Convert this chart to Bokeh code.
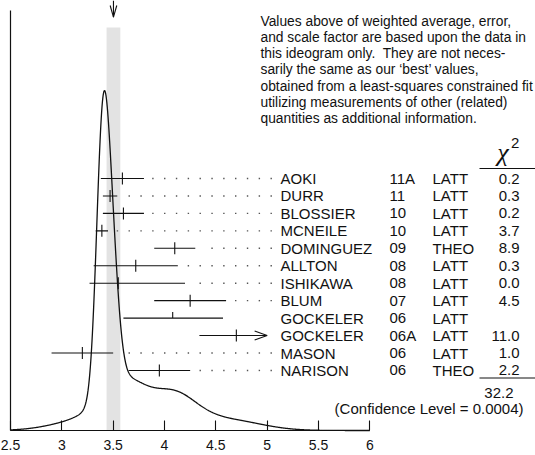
import numpy as np
from bokeh.plotting import figure
from bokeh.models import Range1d, FixedTicker
from bokeh.core.properties import value
from bokeh.embed import file_html
from bokeh.resources import INLINE

# ---------------- data ----------------
authors = ["AOKI", "DURR", "BLOSSIER", "MCNEILE", "DOMINGUEZ", "ALLTON",
           "ISHIKAWA", "BLUM", "GOCKELER", "GOCKELER", "MASON", "NARISON"]
years = ["11A", "11", "10", "10", "09", "08", "08", "07", "06", "06A", "06", "06"]
methods = ["LATT", "LATT", "LATT", "LATT", "THEO", "LATT", "LATT", "LATT",
           "LATT", "LATT", "LATT", "THEO"]
values = [3.59, 3.47, 3.60, 3.39, 4.10, 3.72, 3.55, 4.25, 4.08, 4.70, 3.20, 3.95]
err_lo = [0.21, 0.07, 0.20, 0.06, 0.20, 0.41, 0.28, 0.35, 0.48, 0.36, 0.30, 0.30]
err_hi = [0.21, 0.07, 0.20, 0.06, 0.20, 0.41, 0.65, 0.35, 0.49, 0.30, 0.30, 0.30]
chi2 = ["0.2", "0.3", "0.2", "3.7", "8.9", "0.3", "0.0", "4.5", "", "11.0", "1.0", "2.2"]
used_in_fit = [True, True, True, True, True, True, True, True, False, True, True, True]
arrow_right = [False, False, False, False, False, False, False, False, False, True, False, False]

avg = 3.503
avg_err = 0.067
chi2_total = "32.2"
confidence = "(Confidence Level = 0.0004)"
ticks = [2.5, 3, 3.5, 4, 4.5, 5, 5.5, 6]
tick_labels = ["2.5", "3", "3.5", "4", "4.5", "5", "5.5", "6"]
note_lines = [
    "Values above of weighted average, error,",
    "and scale factor are based upon the data in",
    "this ideogram only.\u00a0 They are not neces-",
    "sarily the same as our \u2018best\u2019 values,",
    "obtained from a least-squares constrained fit",
    "utilizing measurements of other (related)",
    "quantities as additional information.",
]

# ---------------- layout (page pixel coordinates) ----------------
W, H = 535, 455
X0_PX, X1_PX = 10.0, 369.3          # where ticks[0] and ticks[-1] land
SCALE = (X1_PX - X0_PX) / (ticks[-1] - ticks[0])


def xd(px):
    return ticks[0] + (px - X0_PX) / SCALE


BASE = 430.0      # axis baseline (page y)
PEAK = 90.0       # ideogram peak (page y)
ROW0, DROW = 178.0, 17.45
FONT = value("Liberation Sans")
FS = "15px"
FS_NOTE = "13.8px"
INK = "#111111"

p = figure(width=W, height=H, output_backend="svg", toolbar_location=None,
           x_range=Range1d(xd(0), xd(W)), y_range=Range1d(H, 0),
           y_axis_location=None, min_border=0)
p.outline_line_color = None
p.xgrid.visible = False
p.ygrid.visible = False
p.background_fill_color = "white"
p.border_fill_color = "white"

ax = p.xaxis[0]
ax.fixed_location = BASE
ax.ticker = FixedTicker(ticks=ticks)
ax.major_label_overrides = {float(t): s for t, s in zip(ticks, tick_labels)}
ax.bounds = (ticks[0], ticks[-1])
ax.major_tick_in = 10
ax.major_tick_out = 0
ax.minor_tick_in = 0
ax.minor_tick_out = 0
ax.minor_tick_line_color = None
ax.axis_line_color = INK
ax.axis_line_width = 1.2
ax.major_tick_line_color = INK
ax.major_tick_line_width = 1.1
ax.major_label_standoff = 9
ax.major_label_text_font = "Liberation Sans"
ax.major_label_text_font_size = "14px"
ax.major_label_text_color = INK

# weighted average band
p.quad(left=[avg - avg_err], right=[avg + avg_err], top=[27], bottom=[BASE],
       fill_color="#e3e3e3", line_color=None)

# left frame line
p.segment(x0=[ticks[0]], x1=[ticks[0]], y0=[10], y1=[BASE], line_color=INK, line_width=1.2)

# ideogram curve: each used measurement is a Gaussian of area ~ 1/sigma
xs = np.linspace(ticks[0], ticks[-1], 900)
f = np.zeros_like(xs)
for v, lo, hi, u in zip(values, err_lo, err_hi, used_in_fit):
    if not u:
        continue
    s = np.where(xs < v, lo, hi)
    sm = 0.5 * (lo + hi)
    f += (1.0 / sm ** 2) * np.exp(-0.5 * ((xs - v) / s) ** 2)
ycurve = BASE - (BASE - PEAK) * f / f.max()
p.line(xs, ycurve, line_color=INK, line_width=1.3)

# top arrow marking the average
hx = 3.3 / SCALE
p.segment(x0=[avg], x1=[avg], y0=[0], y1=[16.7], line_color=INK, line_width=1.1)
p.segment(x0=[avg - hx, avg + hx], x1=[avg, avg], y0=[5, 5], y1=[16.7, 16.7],
          line_color=INK, line_width=1.1)

# measurements
n = len(values)
rows = [ROW0 + i * DROW for i in range(n)]
lefts = [v - l for v, l in zip(values, err_lo)]
rights = [v + h for v, h in zip(values, err_hi)]
p.segment(x0=lefts, x1=rights, y0=rows, y1=rows, line_color=INK, line_width=1.1)
tick_bottom = [r + (6 if u else 0) for r, u in zip(rows, used_in_fit)]
p.segment(x0=values, x1=values, y0=[r - 6 for r in rows], y1=tick_bottom,
          line_color=INK, line_width=1.1)

# arrow heads
ah_len = 12.5 / SCALE
for i in range(n):
    if arrow_right[i]:
        tip = rights[i]
        p.segment(x0=[tip - ah_len, tip - ah_len], x1=[tip, tip],
                  y0=[rows[i] - 4.5, rows[i] + 4.5], y1=[rows[i], rows[i]],
                  line_color=INK, line_width=1.1)

# dotted leaders
DOT_REF = xd(270.7)
DOT_STEP = 11.83 / SCALE
grid = [DOT_REF - k * DOT_STEP for k in range(0, 14)]
dx, dy = [], []
for i in range(n):
    if not used_in_fit[i] or arrow_right[i]:
        continue
    for g in grid:
        if g > rights[i] + 6.0 / SCALE:
            dx.append(g)
            dy.append(rows[i])
p.scatter(dx, dy, marker="square", size=1.4, fill_color="#555555", line_color=None)

# table text (vertically centred on each row line)
for xpx, col, align in ((280, authors, "left"), (389, years, "left"),
                        (432, methods, "left"), (519, chi2, "right")):
    p.text(x=[xd(xpx)] * n, y=rows, text=col, text_font=FONT,
           text_font_size=FS, text_baseline="middle", text_align=align,
           text_color=INK)

# chi2 header
p.text(x=[xd(502.5)], y=[152], text=["\u03c7"], text_font=value("Liberation Serif"),
       text_font_style="italic", text_font_size="26px",
       text_baseline="middle", text_align="center", text_color=INK)
p.text(x=[xd(510.5)], y=[142.5], text=["2"], text_font=FONT, text_font_size=FS,
       text_baseline="middle", text_align="left", text_color=INK)
p.segment(x0=[xd(479), xd(479)], x1=[xd(540), xd(540)], y0=[168, 377.5], y1=[168, 377.5],
          line_color=INK, line_width=1.0)
p.text(x=[xd(513)], y=[392], text=[chi2_total], text_font=FONT, text_font_size=FS,
       text_baseline="middle", text_align="right", text_color=INK)
p.text(x=[xd(523)], y=[408], text=[confidence], text_font=FONT, text_font_size=FS,
       text_baseline="middle", text_align="right", text_color=INK)

# note
p.text(x=[xd(260)] * len(note_lines), y=[20.5 + 16.3 * i for i in range(len(note_lines))],
       text=note_lines, text_font=FONT, text_font_size=FS_NOTE, text_baseline="middle",
       text_align="left", text_color=INK)

open("out.html", "w").write(file_html(p, INLINE))
